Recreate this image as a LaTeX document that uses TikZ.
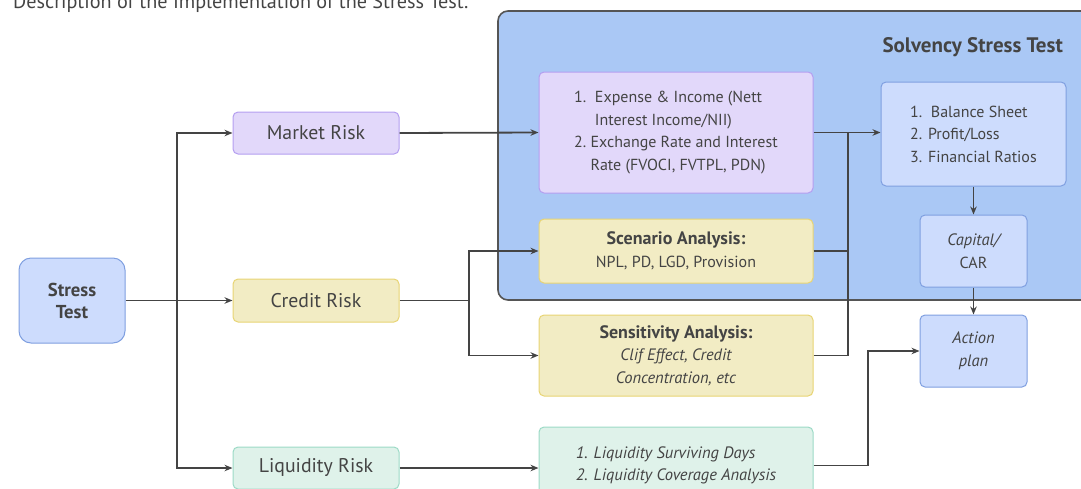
\documentclass[tikz,border=0pt]{standalone}
\usepackage{fontspec}
\setmainfont{PT Sans}
\usetikzlibrary{arrows.meta}
\definecolor{txt}{HTML}{444444}
\definecolor{ln}{HTML}{444444}
\definecolor{contfill}{HTML}{AAC8F5}
\definecolor{contdraw}{HTML}{555555}
\definecolor{lavfill}{HTML}{E2D8FA}
\definecolor{lavdraw}{HTML}{B49EF0}
\definecolor{yelfill}{HTML}{F2ECC4}
\definecolor{yeldraw}{HTML}{E8D474}
\definecolor{grnfill}{HTML}{DFF2EA}
\definecolor{grndraw}{HTML}{9CDAC6}
\definecolor{blufill}{HTML}{CDDCFD}
\definecolor{bludraw}{HTML}{7F9FE0}
\newcommand{\bx}[1]{{\fontsize{18}{22.5}\selectfont\bfseries #1}}
\newcommand{\ix}[1]{{\fontsize{16.5}{22.5}\selectfont\itshape #1}}
\tikzset{
  box/.style={rounded corners=5, line width=1pt, inner sep=0pt, align=center, text=txt},
  lav/.style={box, fill=lavfill, draw=lavdraw},
  yel/.style={box, fill=yelfill, draw=yeldraw},
  grn/.style={box, fill=grnfill, draw=grndraw},
  blu/.style={box, fill=blufill, draw=bludraw},
  riskfont/.style={font=\fontsize{19.8}{22}\selectfont},
  boxfont/.style={font=\fontsize{16}{22.5}\selectfont},
  conn/.style={draw=ln, line width=1.8pt, -{Stealth[length=8pt,width=6.5pt]}},
  plain/.style={draw=ln, line width=1.8pt},
}
\begin{document}
\begin{tikzpicture}[x=1pt,y=-1pt]
\useasboundingbox (0,0) rectangle (1081,488);
\clip (0,0) rectangle (1081,488);
% caption
\node[anchor=base west, inner sep=0pt, text=txt, font=\fontsize{20.2}{24}\selectfont] (cap0) at (13,8.5) {Description of the Implementation of the Stress Test.};
% container
\draw[fill=contfill, draw=contdraw, line width=1.6pt, rounded corners=10] (498,11) rectangle (1100,300);
\node[anchor=east, inner sep=0pt, text=txt, font=\fontsize{21}{24}\selectfont\bfseries] (sol) at (1063,47) {Solvency Stress Test};
% nodes
\node[blu, rounded corners=12, minimum width=106, minimum height=85, font=\fontsize{18.7}{22}\selectfont\bfseries] (st) at (72,300.5) {Stress\\Test};
\node[lav, riskfont, minimum width=166, minimum height=42] (mr) at (316,133) {Market Risk};
\node[yel, riskfont, minimum width=166, minimum height=43] (cr) at (316,300.5) {Credit Risk};
\node[grn, riskfont, minimum width=166, minimum height=42] (lr) at (316,468) {Liquidity Risk};
\node[lav, boxfont, align=left, minimum width=274, minimum height=121] (ex) at (676,132.5)
  {1.\ \ Expense \& Income (Nett\\\phantom{1.\ \ }Interest Income/NII)\\2.\ Exchange Rate and Interest\\\phantom{2.\ }Rate (FVOCI, FVTPL, PDN)};
\node[yel, boxfont, minimum width=274, minimum height=64] (sc) at (676,251)
  {\bx{Scenario Analysis:}\\NPL, PD, LGD, Provision};
\node[yel, boxfont, minimum width=274, minimum height=81] (se) at (676,355.5)
  {\bx{Sensitivity Analysis:}\\\ix{Clif Effect, Credit}\\\ix{Concentration, etc}};
\node[grn, boxfont, align=left, minimum width=274, minimum height=77] (ld) at (676,465.5)
  {\ix{1. Liquidity Surviving Days}\\\ix{2. Liquidity Coverage Analysis}};
\node[blu, boxfont, align=left, minimum width=185, minimum height=104] (bs) at (973.5,134)
  {1.\ \ Balance Sheet\\2. Profit/Loss\\3. Financial Ratios};
\node[blu, boxfont, minimum width=107, minimum height=72] (cp) at (973.5,251)
  {\ix{Capital/}\\CAR};
\node[blu, boxfont, minimum width=107, minimum height=72] (ap) at (973.5,351)
  {\ix{Action}\\\ix{plan}};
% junctions
\coordinate (j1) at (177,300.5);
\coordinate (j2) at (469,300.5);
\coordinate (j3) at (848,133);
\coordinate (j4) at (868,351);
% connectors
\draw[conn] (st.east) -- (cr.west);
\draw[conn] (j1) |- (mr.west);
\draw[conn] (j1) |- (lr.west);
\draw[conn] (mr.east) -- (ex.west);
\draw[plain] (cr.east) -- (j2);
\draw[conn] (j2) |- (sc.west);
\draw[conn] (j2) |- (se.west);
\draw[conn] (lr.east) -- (lr.east -| ld.west);
\draw[conn] (ex.east) -- (ex.east -| bs.west);
\draw[plain] (sc.east) -| (j3);
\draw[plain] (se.east) -| (j3);
\draw[conn] (ld.east) -| (j4) -- (ap.west);
\draw[conn] (bs.south) -- (cp.north);
\draw[conn] (cp.south) -- (ap.north);
\end{tikzpicture}
\end{document}
